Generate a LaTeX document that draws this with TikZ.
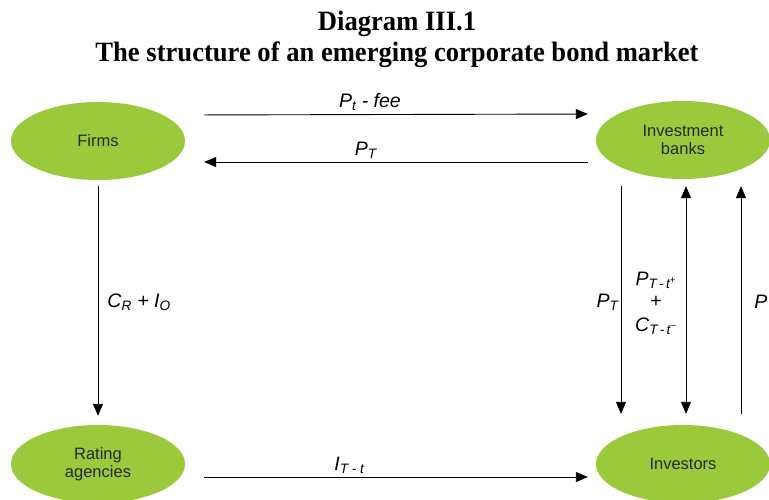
\documentclass[tikz,border=0pt]{standalone}
\usepackage{fontspec}
\setmainfont{Liberation Sans}
\newfontfamily\titlefamily[FakeStretch=0.95]{Liberation Serif}
\usetikzlibrary{arrows.meta,shapes.geometric}
\definecolor{leaf}{RGB}{154,202,60}
\definecolor{ink}{RGB}{40,40,40}
\newcommand{\sub}[1]{\textsubscript{\textit{#1}}}

\begin{document}
\begin{tikzpicture}[x=1pt,y=-1pt,
    actor/.style={ellipse,fill=leaf,draw=none,minimum width=174pt,minimum height=78pt,
      inner sep=0pt,align=center,font=\fontsize{16.5}{18.5}\selectfont,text=ink},
    flow/.style={-{Triangle[length=12pt,width=10pt]},line width=0.9pt},
    both/.style={{Triangle[length=12pt,width=10pt]}-{Triangle[length=12pt,width=10pt]},line width=0.9pt},
    lbl/.style={font=\fontsize{19.5}{21}\selectfont\itshape,inner sep=1pt},
    heading/.style={font=\fontsize{28}{31}\selectfont\bfseries\titlefamily,anchor=base}]
    \useasboundingbox (0,0) rectangle (769,499);
    \clip (0,0) rectangle (769,499);
    % title
    \node[heading] (title) at (397,30) {Diagram III.1};
    \node[heading] (subtitle) at (397,61) {The structure of an emerging corporate bond market};
    % the four parties
    \node[actor] (firms) at (98,141) {Firms};
    \node[actor] (banks) at (683,140) {Investment\\banks};
    \node[actor] (rating) at (98,464) {Rating\\agencies};
    \node[actor] (investors) at (683,464) {Investors};
    % flows between them
    \draw[flow,shorten <=19pt,shorten >=8pt] ([yshift=26pt]firms.east) -- ([yshift=26pt]banks.west)
      node[lbl,pos=0.45,above=2pt] (fee) {P\sub{t} - fee};
    \draw[flow,shorten <=8pt,shorten >=19pt] ([yshift=-22pt]banks.west) -- ([yshift=-21pt]firms.east)
      node[lbl,pos=0.56,above=2pt] (price) {P\sub{T}};
    \draw[flow,shorten <=6pt,shorten >=9pt] (firms.south) -- (rating.north)
      node[lbl,midway,right=8pt] (cost) {C\sub{R} + I\sub{O}};
    \draw[flow,shorten <=19pt,shorten >=8pt] ([yshift=-13pt]rating.east) -- ([yshift=-13pt]investors.west)
      node[lbl,pos=0.4,above=2pt] (info) {I\sub{T - t}};
    \draw[flow,shorten <=7pt,shorten >=11pt] ([xshift=-62pt]banks.south) -- ([xshift=-62pt]investors.north)
      node[lbl,midway,left=1pt] (sell) {P\sub{T}};
    \draw[both,shorten <=7pt,shorten >=11pt] ([xshift=3pt]banks.south) -- ([xshift=3pt]investors.north);
    \node[lbl,align=center,font=\fontsize{19.5}{24}\selectfont\itshape] (swap) at (656,303)
      {P\sub{T\,-\,t\textsuperscript{+}}\\[-2pt]{\upshape+}\\C\sub{T\,-\,t\textsuperscript{--}}};
    \draw[flow,shorten <=11pt,shorten >=7pt] ([xshift=58pt]investors.north) -- ([xshift=58pt]banks.south)
      node[lbl,midway,right=12pt] (buy) {P};
\end{tikzpicture}
\end{document}
